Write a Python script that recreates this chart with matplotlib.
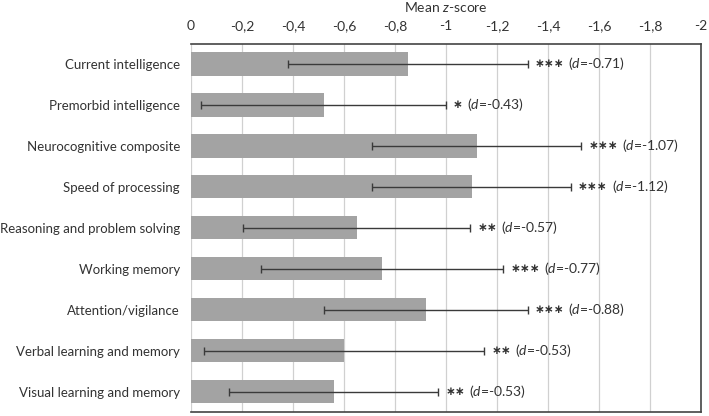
import matplotlib
matplotlib.use("Agg")
import matplotlib.pyplot as plt
import numpy as np

categories = ["Current intelligence", "Premorbid intelligence", "Neurocognitive composite",
              "Speed of processing", "Reasoning and problem solving", "Working memory",
              "Attention/vigilance", "Verbal learning and memory", "Visual learning and memory"]
means = [-0.85, -0.52, -1.12, -1.10, -0.65, -0.75, -0.92, -0.60, -0.56]
errors = [0.47, 0.48, 0.41, 0.39, 0.445, 0.475, 0.40, 0.55, 0.41]
stars = ["***", "*", "***", "***", "**", "***", "***", "**", "**"]
d_values = ["-0.71", "-0.43", "-1.07", "-1.12", "-0.57", "-0.77", "-0.88", "-0.53", "-0.53"]
tick_values = [0, -0.2, -0.4, -0.6, -0.8, -1.0, -1.2, -1.4, -1.6, -1.8, -2.0]
tick_labels = ["0", "-0,2", "-0,4", "-0,6", "-0,8", "-1", "-1,2", "-1,4", "-1,6", "-1,8", "-2"]

plt.rcParams['font.family'] = ['Lato', 'DejaVu Sans']
plt.rcParams['mathtext.fontset'] = 'custom'
plt.rcParams['mathtext.rm'] = 'Lato'
plt.rcParams['mathtext.it'] = 'Lato:italic'

txt = '#333333'
fig = plt.figure(figsize=(7.09, 4.16), dpi=100)
ax = fig.add_axes([191/709, 1-412/416, (701-191)/709, (412-43.5)/416])

y = np.arange(len(categories))
ax.barh(y, means, height=0.57, color='#a3a3a3', zorder=2)
ax.errorbar(means, y, xerr=errors, fmt='none', ecolor='#3a3a3a', elinewidth=1.0,
            capsize=3, capthick=1.0, zorder=3)

for yi, m, e, s, d in zip(y, means, errors, stars, d_values):
    star_text = ax.annotate(s.replace("*", "\u2217"), xy=(m - e, yi), xytext=(5, 0),
                            textcoords='offset points', va='center', ha='left',
                            fontsize=8.5, fontweight='bold', family='DejaVu Sans', color=txt)
    ax.annotate(r"($\it{d}$=" + d + ")", xy=(1, 0.5), xycoords=star_text,
                xytext=(3, 0), textcoords='offset points', va='center', ha='left',
                fontsize=10, color=txt)

ax.set_xlim(0, -2)
ax.set_ylim(len(categories) - 0.5, -0.5)
ax.set_xticks(tick_values)
ax.set_xticklabels(tick_labels)
ax.set_yticks(y)
ax.set_yticklabels(categories)
ax.xaxis.tick_top()
ax.xaxis.set_label_position('top')
ax.set_xlabel(r"Mean $\it{z}$-score", fontsize=10, color=txt, labelpad=6)
ax.tick_params(axis='x', length=0, labelsize=10, labelcolor=txt, pad=8)
ax.tick_params(axis='y', length=0, labelsize=9.5, labelcolor=txt, pad=8)
ax.grid(axis='x', color='#d0d0d0', linewidth=0.9, zorder=0)
ax.set_axisbelow(True)
for side in ['top', 'right', 'bottom']:
    ax.spines[side].set_color('#444444')
    ax.spines[side].set_linewidth(1.2)
ax.spines['left'].set_visible(False)

fig.savefig('out.png', dpi=100)
